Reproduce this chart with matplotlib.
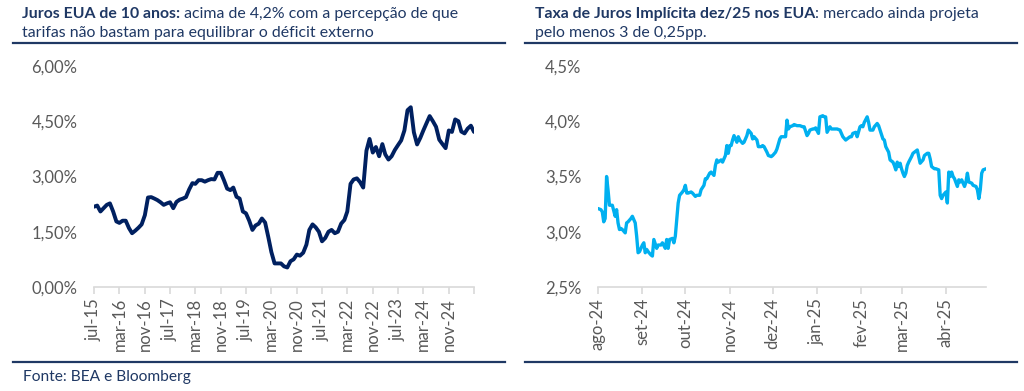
import matplotlib
matplotlib.use("Agg")
import matplotlib.pyplot as plt
import numpy as np
import pandas as pd
from matplotlib.lines import Line2D
from matplotlib.ticker import FuncFormatter

plt.rcParams["font.family"] = ["Lato", "DejaVu Sans"]

NAVY = "#1F3864"
TICK_GRAY = "#595959"
AXIS_GRAY = "#D9D9D9"

MESES = ["jan", "fev", "mar", "abr", "mai", "jun", "jul", "ago", "set", "out", "nov", "dez"]

# US 10y yield, monthly from jul-15
juros_10a = [
    2.18, 2.21, 2.05, 2.14, 2.23, 2.27, 2.05, 1.78, 1.74, 1.80,
    1.80, 1.60, 1.46, 1.53, 1.61, 1.70, 1.95, 2.43, 2.44, 2.40,
    2.36, 2.30, 2.23, 2.27, 2.30, 2.14, 2.31, 2.37, 2.40, 2.44,
    2.65, 2.82, 2.80, 2.90, 2.90, 2.86, 2.90, 2.93, 2.92, 3.10,
    3.10, 2.90, 2.67, 2.63, 2.70, 2.45, 2.40, 2.05, 2.00, 1.80,
    1.55, 1.67, 1.72, 1.86, 1.75, 1.35, 0.95, 0.64, 0.64, 0.64,
    0.56, 0.53, 0.70, 0.75, 0.88, 0.85, 0.93, 1.15, 1.55, 1.70,
    1.62, 1.50, 1.24, 1.33, 1.50, 1.55, 1.46, 1.50, 1.72, 1.82,
    2.05, 2.80, 2.92, 2.95, 2.85, 2.70, 3.70, 4.02, 3.65, 3.80,
    3.55, 3.88, 3.60, 3.46, 3.55, 3.72, 3.85, 3.98, 4.25, 4.80,
    4.88, 4.20, 3.87, 4.05, 4.25, 4.45, 4.64, 4.50, 4.35, 4.00,
    3.88, 3.77, 4.25, 4.21, 4.55, 4.50, 4.22, 4.17, 4.30, 4.38,
    4.21,
]
meses_10a = pd.date_range("2015-07-01", periods=len(juros_10a), freq="MS")

# implied dec/25 rate, days after 2024-08-01
dias_impl = [
    0, 2, 3, 4, 5, 6, 7, 8, 9, 10, 12, 13, 14, 15, 16, 17, 19, 20, 21, 23,
    24, 26, 27, 28, 29, 31, 32, 33, 34, 35, 37, 38, 39, 41, 42, 44, 45, 47, 48, 49,
    50, 52, 53, 54, 56, 57, 59, 60, 61, 62, 63, 65, 66, 68, 69, 71, 72, 74, 75, 76,
    78, 79, 81, 82, 83, 84, 86, 87, 89, 90, 91, 92, 93, 94, 95, 97, 98, 99, 101, 102,
    104, 105, 107, 108, 109, 111, 112, 114, 115, 116, 118, 119, 121, 122, 124, 125, 127, 128, 129, 131,
    132, 133, 134, 136, 137, 139, 140, 141, 143, 144, 146, 147, 148, 150, 151, 152, 154, 155, 157, 158,
    159, 160, 162, 163, 164, 166, 167, 169, 170, 171, 173, 174, 176, 177, 178, 180, 181, 183, 184, 185,
    186, 188, 189, 190, 192, 193, 195, 196, 197, 199, 200, 201, 203, 204, 206, 207, 208, 209, 210, 211,
    212, 213, 214, 215, 216, 217, 219, 220, 221, 223, 224, 225, 227, 228, 230, 231, 232, 233, 235, 236,
    238, 239, 240, 241, 243, 244, 245, 246, 247, 248, 249, 251, 252, 253, 254, 256, 257, 258, 259, 261,
    262, 264, 265, 266, 267, 268, 269, 271,
]
taxa_impl = [
    3.21, 3.20, 3.18, 3.09, 3.12, 3.50, 3.38, 3.24, 3.24, 3.24, 3.14, 3.20, 3.08, 3.02, 3.03, 3.02, 2.99, 3.08, 3.09, 3.12,
    3.14, 3.08, 2.96, 2.81, 2.82, 2.88, 2.90, 2.81, 2.84, 2.82, 2.79, 2.78, 2.93, 2.85, 2.88, 2.88, 2.90, 2.85, 2.93, 2.85,
    2.93, 2.94, 2.90, 2.96, 3.26, 3.33, 3.36, 3.38, 3.42, 3.35, 3.35, 3.36, 3.35, 3.32, 3.33, 3.33, 3.38, 3.42, 3.48, 3.48,
    3.53, 3.54, 3.51, 3.60, 3.65, 3.63, 3.65, 3.63, 3.69, 3.78, 3.71, 3.78, 3.78, 3.83, 3.87, 3.81, 3.86, 3.83, 3.80, 3.81,
    3.87, 3.92, 3.89, 3.84, 3.86, 3.83, 3.77, 3.77, 3.78, 3.77, 3.72, 3.69, 3.68, 3.69, 3.72, 3.75, 3.84, 3.86, 3.86, 3.86,
    4.01, 3.93, 3.95, 3.96, 3.97, 3.96, 3.96, 3.96, 3.95, 3.95, 3.87, 3.89, 3.92, 3.93, 3.93, 3.94, 3.89, 4.04, 4.05, 4.04,
    4.04, 3.90, 3.95, 3.93, 3.93, 3.93, 3.93, 3.92, 3.89, 3.86, 3.83, 3.84, 3.86, 3.86, 3.89, 3.90, 3.86, 3.95, 3.96, 3.95,
    3.99, 4.04, 3.99, 3.92, 3.92, 3.95, 3.98, 3.96, 3.92, 3.84, 3.83, 3.77, 3.72, 3.65, 3.63, 3.60, 3.56, 3.63, 3.59, 3.62,
    3.57, 3.53, 3.50, 3.53, 3.60, 3.63, 3.68, 3.71, 3.72, 3.74, 3.68, 3.62, 3.65, 3.69, 3.71, 3.71, 3.66, 3.59, 3.57, 3.57,
    3.56, 3.33, 3.30, 3.33, 3.36, 3.26, 3.54, 3.50, 3.54, 3.50, 3.48, 3.41, 3.47, 3.45, 3.47, 3.41, 3.45, 3.53, 3.45, 3.44,
    3.42, 3.41, 3.38, 3.30, 3.38, 3.53, 3.56, 3.57,
]
datas_impl = pd.Timestamp("2024-08-01") + pd.to_timedelta(dias_impl, unit="D")


def rotulo_mes(d):
    return f"{MESES[d.month - 1]}-{d.year % 100:02d}"


def estilo_eixo(ax):
    for s in ["top", "right", "left"]:
        ax.spines[s].set_visible(False)
    ax.spines["bottom"].set_color(AXIS_GRAY)
    ax.spines["bottom"].set_linewidth(1.2)
    ax.tick_params(axis="y", length=0, labelsize=12, labelcolor=TICK_GRAY, pad=12)
    ax.tick_params(axis="x", length=5, width=1.2, color=AXIS_GRAY, labelsize=12,
                   labelcolor=TICK_GRAY, labelrotation=90, pad=3)
    ax.patch.set_visible(False)


def titulo(fig, x, y, negrito, resto, linha2):
    r = fig.canvas.get_renderer()
    t = fig.text(x, y, negrito, weight="bold", color=NAVY, fontsize=11.4, va="baseline")
    bb = t.get_window_extent(renderer=r)
    fig.text(bb.x1 / fig.bbox.width, y, resto, color=NAVY, fontsize=11.4, va="baseline")
    fig.text(x, y - 19 / 391, linha2, color=NAVY, fontsize=11.4, va="baseline")


W, H = 1024, 391
fig = plt.figure(figsize=(W / 100, H / 100), dpi=100)


def px_rect(x0, y0, x1, y1):
    return [x0 / W, 1 - y1 / H, (x1 - x0) / W, (y1 - y0) / H]


# left chart
ax1 = fig.add_axes(px_rect(94, 66, 474, 287))
ax1.plot(meses_10a, juros_10a, color="#002060", lw=2.8, solid_capstyle="round")
ax1.set_ylim(0, 6)
ax1.set_yticks([0, 1.5, 3, 4.5, 6])
ax1.yaxis.set_major_formatter(FuncFormatter(lambda v, p: f"{v:.2f}%".replace(".", ",")))
ax1.set_xlim(meses_10a[0], meses_10a[-1])
ticks1 = meses_10a[::8]
ax1.set_xticks(ticks1)
ax1.set_xticklabels([rotulo_mes(d) if i < len(ticks1) - 1 else "" for i, d in enumerate(ticks1)])
estilo_eixo(ax1)

# right chart
ax2 = fig.add_axes(px_rect(598, 66, 986, 287))
ax2.plot(datas_impl, taxa_impl, color="#00B0F0", lw=2.4, solid_capstyle="round")
ax2.set_ylim(2.5, 4.5)
ax2.set_yticks([2.5, 3.0, 3.5, 4.0, 4.5])
ax2.yaxis.set_major_formatter(FuncFormatter(lambda v, p: f"{v:.1f}%".replace(".", ",")))
ax2.set_xlim(pd.Timestamp("2024-08-01"), datas_impl[-1])
ticks2 = pd.date_range("2024-08-01", "2025-04-01", freq="MS")
ax2.set_xticks(ticks2)
ax2.set_xticklabels([rotulo_mes(d) for d in ticks2])
estilo_eixo(ax2)

# titles and rules
titulo(fig, 22 / W, 1 - 18 / H, "Juros EUA de 10 anos:",
       " acima de 4,2% com a percepção de que",
       "tarifas não bastam para equilibrar o déficit externo")
titulo(fig, 535 / W, 1 - 18 / H, "Taxa de Juros Implícita dez/25 nos EUA",
       ": mercado ainda projeta", "pelo menos 3 de 0,25pp.")

for x0, x1 in [(13, 505), (525, 1017)]:
    for yy in [43, 362]:
        fig.add_artist(Line2D([x0 / W, x1 / W], [1 - yy / H] * 2, color=NAVY, lw=1.6,
                              transform=fig.transFigure))

fig.text(23 / W, 1 - 381 / H, "Fonte: BEA e Bloomberg", color=NAVY, fontsize=11.2, va="baseline")

fig.savefig("out.png", dpi=100)
